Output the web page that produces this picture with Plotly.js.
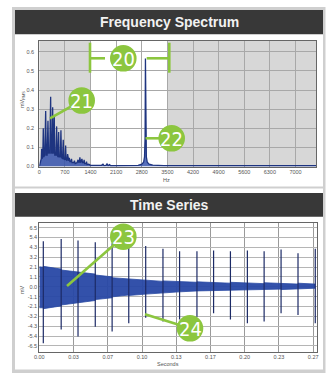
<!DOCTYPE html>
<html><head><meta charset="utf-8">
<script src="https://cdn.plot.ly/plotly-3.0.1.min.js"></script>
<style>html,body{margin:0;padding:0;background:#fff;}#c{width:327px;height:381px;}</style>
</head><body><div id="c"></div>
<script>
// ---------- Frequency spectrum data ----------
const specFreq = [0,20,40,55,65,75,95,109,122,150,174,190,215,237,252,285,310,325,350,365,378,395,409,422,455,474,488,510,528,542,575,591,605,635,654,668,700,719,732,760,773,786,805,820,835,860,880,895,940,960,980,1030,1060,1075,1095,1109,1125,1150,1165,1180,1210,1225,1240,1275,1290,1305,1350,1400,1500,1600,1700,1740,1770,1820,1850,1880,1920,1950,2100,2400,2700,2800,2850,2875,2890,2900,2910,2925,2950,3000,3100,3400,4500,6000,7560];
const specAmp  = [0,0.01,0.03,0.04,0.093,0.04,0.05,0.20,0.05,0.06,0.29,0.06,0.06,0.24,0.07,0.07,0.365,0.07,0.07,0.31,0.07,0.07,0.27,0.06,0.06,0.21,0.06,0.05,0.18,0.05,0.05,0.19,0.05,0.04,0.14,0.04,0.035,0.11,0.035,0.03,0.065,0.03,0.03,0.045,0.025,0.025,0.04,0.02,0.02,0.03,0.015,0.02,0.035,0.02,0.025,0.048,0.02,0.03,0.04,0.02,0.02,0.035,0.015,0.015,0.025,0.01,0.012,0.006,0.005,0.004,0.006,0.012,0.005,0.006,0.014,0.005,0.01,0.004,0.004,0.004,0.006,0.012,0.022,0.05,0.15,0.565,0.15,0.05,0.022,0.012,0.007,0.005,0.005,0.005,0.005];
const freqTickVals = [0,700,1400,2100,2800,3500,4200,4900,5600,6300,7000];
const freqTickText = ["0","700","1400","2100","2800","3500","4200","4900","5600","6300","7000"];
const ampTickVals = [0,0.1,0.2,0.3,0.4,0.5,0.6];
const ampTickText = ["0.0","0.1","0.2","0.3","0.4","0.5","0.6"];
const shadedBands = [[0,1400],[3500,7560]];

// ---------- Time series data ----------
const spikeTime = [0.0039,0.0213,0.0377,0.0545,0.0709,0.0871,0.1036,0.1204,0.1366,0.1535,0.1697,0.1861,0.2026,0.2189,0.2354,0.2519,0.2687];
const spikeHigh = [5.0,5.25,5.1,4.9,4.8,4.6,4.5,4.2,3.9,3.9,4.0,3.9,4.0,3.9,4.1,3.7,4.2];
const spikeLow  = [-6.2,-4.7,-5.45,-4.4,-4.9,-4.0,-3.4,-3.8,-3.6,-3.3,-2.9,-3.6,-4.0,-3.8,-2.9,-3.1,-4.0];
const bandTime = [0,0.0039,0.0039,0.0213,0.0213,0.0377,0.0377,0.0545,0.0545,0.0709,0.0709,0.0871,0.0871,0.1036,0.1036,0.1204,0.1204,0.1366,0.1366,0.1535,0.1535,0.1697,0.1697,0.1861,0.1861,0.2026,0.2026,0.2189,0.2189,0.2354,0.2354,0.2519,0.2519,0.2687];
const bandTop    = [2.2,2.15,2.25,1.95,1.85,1.6,1.6,1.4,1.3,1.1,1.0,0.85,0.85,0.7,0.75,0.6,0.65,0.55,0.6,0.5,0.55,0.45,0.5,0.4,0.5,0.4,0.45,0.35,0.45,0.35,0.4,0.3,0.4,0.3];
const bandBottom = [-2.3,-2.3,-2.4,-2.1,-2.0,-1.8,-1.75,-1.5,-1.4,-1.2,-1.1,-0.9,-0.95,-0.8,-0.8,-0.65,-0.65,-0.55,-0.55,-0.45,-0.45,-0.4,-0.45,-0.35,-0.4,-0.3,-0.35,-0.3,-0.3,-0.25,-0.3,-0.2,-0.25,-0.15];
const timeTickVals = [0,0.03333,0.06667,0.1,0.13333,0.16667,0.2,0.23333,0.26667];
const timeTickText = ["0.00","0.03","0.07","0.10","0.13","0.17","0.20","0.23","0.27"];
const mvTickVals = [-6.5,-5.417,-4.333,-3.25,-2.167,-1.083,0,1.083,2.167,3.25,4.333,5.417,6.5];
const mvTickText = ["-6.5","-5.4","-4.3","-3.2","-2.1","-1.1","0.0","1.1","2.1","3.2","4.3","5.4","6.5"];

// ---------- helpers (pixel -> paper) ----------
const W = 327, H = 381;
const px = x => x / W;
const py = y => 1 - y / H;
const GREEN = '#8cc63f';

// spike segments from arrays
const sx = [], sy = [];
spikeTime.forEach((t,i)=>{ sx.push(t,t,null); sy.push(spikeLow[i],spikeHigh[i],null); });

const traces = [
  {x: specFreq, y: specAmp, type:'scatter', mode:'lines', xaxis:'x', yaxis:'y',
   line:{color:'#1e3480', width:1.3}, fill:'tozeroy', fillcolor:'rgba(45,75,170,0.8)', hoverinfo:'skip'},
  {x: bandTime, y: bandBottom, type:'scatter', mode:'lines', xaxis:'x2', yaxis:'y2',
   line:{color:'#2a4aa3', width:0.8}, hoverinfo:'skip'},
  {x: bandTime, y: bandTop, type:'scatter', mode:'lines', xaxis:'x2', yaxis:'y2',
   line:{color:'#2a4aa3', width:0.8}, fill:'tonexty', fillcolor:'rgba(40,72,165,0.95)', hoverinfo:'skip'},
  {x: sx, y: sy, type:'scatter', mode:'lines', xaxis:'x2', yaxis:'y2',
   line:{color:'#1c2a66', width:1.2}, connectgaps:false, hoverinfo:'skip'}
];

const topDom = [py(166.5), py(41)];
const botDom = [py(351.7), py(222.7)];
const tickFont = {family:'Liberation Sans, Arial, sans-serif', size:5.5, color:'#555'};

const shapes = [
  {type:'rect', xref:'paper', yref:'paper', x0:px(12), x1:px(325.5), y0:py(373), y1:py(7), fillcolor:'#cfcfcf', line:{width:0}, layer:'below'},
  {type:'rect', xref:'paper', yref:'paper', x0:px(15), x1:px(323), y0:py(186.5), y1:py(10), fillcolor:'#ffffff', line:{width:0}, layer:'below'},
  {type:'rect', xref:'paper', yref:'paper', x0:px(15), x1:px(323), y0:py(369.5), y1:py(188.5), fillcolor:'#ffffff', line:{width:0}, layer:'below'},
  {type:'rect', xref:'paper', yref:'paper', x0:px(15), x1:px(323), y0:py(34.3), y1:py(10), fillcolor:'#383838', line:{width:0}, layer:'below'},
  {type:'rect', xref:'paper', yref:'paper', x0:px(15), x1:px(323), y0:py(216.8), y1:py(193), fillcolor:'#383838', line:{width:0}, layer:'below'}
];
shadedBands.forEach(b=>shapes.push({type:'rect', xref:'x', yref:'paper', x0:b[0], x1:b[1], y0:topDom[0], y1:topDom[1], fillcolor:'#d7d7d7', line:{width:0}, layer:'below'}));

function seg(x0,y0,x1,y1){ return {type:'line', xref:'paper', yref:'paper', x0:px(x0), y0:py(y0), x1:px(x1), y1:py(y1), line:{color:GREEN, width:2.6}, layer:'above'}; }
function circ(cx,cy,r){ return {type:'circle', xref:'paper', yref:'paper', x0:px(cx-r), x1:px(cx+r), y0:py(cy+r), y1:py(cy-r), fillcolor:GREEN, line:{width:0}, layer:'above'}; }
const callouts = [
  {n:'20', cx:123.3, cy:58.3},
  {n:'21', cx:81.7, cy:100.5},
  {n:'22', cx:171.7, cy:138.3},
  {n:'23', cx:123.3, cy:236.7},
  {n:'24', cx:190, cy:328.3}
];
shapes.push(seg(90,42.7,90,72.7), seg(169.3,42.7,169.3,72.7), seg(90,58.3,105,58.3), seg(146.7,58.3,169.3,58.3));
shapes.push(seg(50,118.3,81.7,100.5), seg(145.5,138.3,171.7,138.3), seg(67,286,123.3,236.7), seg(145,314.3,190,328.3));
callouts.forEach(c=>shapes.push(circ(c.cx,c.cy,13.3)));

function ann(text, x, y, font, extra){
  return Object.assign({text:text, xref:'paper', yref:'paper', x:px(x), y:py(y), xanchor:'center', yanchor:'middle', showarrow:false, font:font}, extra||{});
}
const headFont = {family:'Liberation Sans, Arial, sans-serif', size:14, color:'#f2f2f2'};
const annotations = [
  ann('<b>Frequency Spectrum</b>', 169, 22.3, headFont),
  ann('<b>Time Series</b>', 169.5, 205, headFont),
  ann('Hz', 166.5, 180, tickFont),
  ann('Seconds', 167.5, 363.5, tickFont),
  ann('mV<sub>RMS</sub>', 22, 99, tickFont, {textangle:-90}),
  ann('mV', 22, 289, tickFont, {textangle:-90})
];
const numFont = {family:'Liberation Sans Narrow, DejaVu Sans Condensed, Arial Narrow, sans-serif', size:20, color:'#ffffff'};
callouts.forEach(c=>annotations.push(ann(c.n, c.cx, c.cy+0.5, numFont)));

const axBase = {showline:true, mirror:true, linecolor:'#666', linewidth:1, zeroline:false, showgrid:true, gridcolor:'#a8a8a8', gridwidth:1, ticks:'', tickfont:tickFont, fixedrange:true};

const layout = {
  width:W, height:H, margin:{l:0,r:0,t:0,b:0}, paper_bgcolor:'#ffffff', plot_bgcolor:'rgba(0,0,0,0)', showlegend:false,
  xaxis: Object.assign({}, axBase, {domain:[px(39.3), px(316)], range:[0,7560], tickmode:'array', tickvals:freqTickVals, ticktext:freqTickText, anchor:'y'}),
  yaxis: Object.assign({}, axBase, {domain:topDom, range:[0,0.657], tickmode:'array', tickvals:ampTickVals, ticktext:ampTickText, anchor:'x', ticklabelstandoff:3}),
  xaxis2: Object.assign({}, axBase, {domain:[px(39.3), px(316.5)], range:[0,0.2699], tickmode:'array', tickvals:timeTickVals, ticktext:timeTickText, anchor:'y2', gridcolor:'#9a9a9a'}),
  yaxis2: Object.assign({}, axBase, {domain:botDom, range:[-7.13,7.05], tickmode:'array', tickvals:mvTickVals, ticktext:mvTickText, anchor:'x2', gridcolor:'#b5b5b5'}),
  shapes: shapes,
  annotations: annotations
};
Plotly.newPlot('c', traces, layout, {staticPlot:true, displayModeBar:false});
</script></body></html>
